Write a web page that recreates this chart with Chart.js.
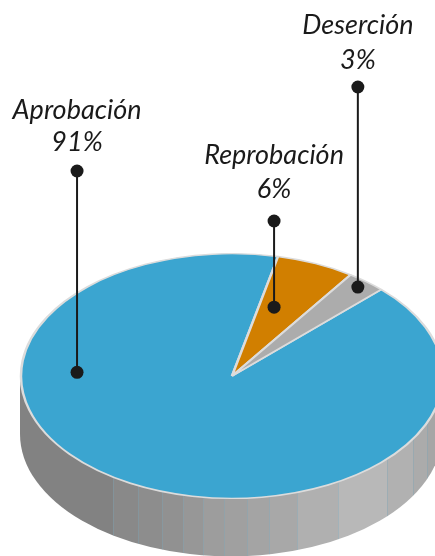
<!DOCTYPE html>
<html>
<head>
<meta charset="utf-8">
<style>html,body{margin:0;padding:0;background:#fff}canvas{display:block}</style>
<script src="https://cdn.jsdelivr.net/npm/chart.js@4"></script>
</head>
<body>
<canvas id="c" width="435" height="556"></canvas>
<script>
const categories = ['Aprobación', 'Reprobación', 'Deserción'];
const values = [91, 6, 3];
const valueLabels = ['91%', '6%', '3%'];
const colors = ['#3ba5d0', '#d17f00', '#acacac'];

// Callouts: fraction along the slice's sweep, fraction of radius, top dot y
const calloutSweep = [0.694, 0.32, 0.48];
const calloutRadius = [0.735, 0.597, 0.94];
const calloutTopY = [171, 221, 87];
const labelY = [[110, 142], [155, 189], [25, 60]];

// Side wall facets
const facetEdges = [0, 113, 138, 162, 183, 203, 224, 247, 269, 297, 338, 387, 413, 427, 435];
const facetFills = ['#828282', '#898989', '#8d8d8d', '#919191', '#979797', '#9d9d9d', '#a0a0a0', '#a4a4a4', '#a8a8a8', '#b0b0b0', '#b8b8b8', '#b1b1b1', '#ababab', '#a6a6a6'];

const SQUASH = 0.58, DEPTH = 58;

const pie3d = {
  id: 'pie3d',
  beforeDatasetsDraw(chart) {
    const arc = chart.getDatasetMeta(0).data[0];
    const { x, y, outerRadius: r } = arc;
    const c = chart.ctx;
    c.save();
    c.beginPath();
    c.ellipse(x - 1, y + DEPTH, r, r * SQUASH, 0, 0, Math.PI);
    c.lineTo(x - 1 - r, y);
    c.lineTo(x - 1 + r, y);
    c.closePath();
    c.clip();
    facetFills.forEach((f, i) => {
      c.fillStyle = f;
      c.fillRect(facetEdges[i], y, facetEdges[i + 1] - facetEdges[i], 200);
    });
    c.fillStyle = 'rgba(120,165,185,0.35)';
    facetEdges.slice(1, -1).forEach(e => c.fillRect(e, y, 1, 200));
    c.restore();
  },
  beforeDatasetDraw(chart) {
    const arc = chart.getDatasetMeta(0).data[0];
    const c = chart.ctx;
    c.save();
    c.translate(arc.x, arc.y);
    c.scale(1, SQUASH);
    c.translate(-arc.x, -arc.y);
  },
  afterDatasetDraw(chart) {
    chart.ctx.restore();
  },
  afterDraw(chart) {
    const c = chart.ctx;
    c.save();
    chart.getDatasetMeta(0).data.forEach((arc, i) => {
      const a = arc.startAngle + (arc.endAngle - arc.startAngle) * calloutSweep[i];
      const px = arc.x + Math.cos(a) * arc.outerRadius * calloutRadius[i];
      const py = arc.y + Math.sin(a) * arc.outerRadius * calloutRadius[i] * SQUASH;
      c.strokeStyle = '#1a1a1a';
      c.fillStyle = '#1a1a1a';
      c.lineWidth = 2;
      c.beginPath();
      c.moveTo(px, py);
      c.lineTo(px, calloutTopY[i]);
      c.stroke();
      [py, calloutTopY[i]].forEach(dy => {
        c.beginPath();
        c.arc(px, dy, 6.5, 0, Math.PI * 2);
        c.fill();
      });
      c.textAlign = 'center';
      c.textBaseline = 'middle';
      c.font = 'italic 27px Lato';
      c.fillText(categories[i], px, labelY[i][0]);
      c.fillText(valueLabels[i], px, labelY[i][1]);
    });
    c.restore();
  }
};

new Chart(document.getElementById('c'), {
  type: 'pie',
  data: {
    labels: categories,
    datasets: [{
      data: values,
      backgroundColor: colors,
      borderColor: '#dcdcdc',
      borderWidth: 2.5,
      clip: false
    }]
  },
  options: {
    responsive: false,
    animation: false,
    rotation: 45,
    radius: 211,
    layout: { padding: { left: 29, top: 196 } },
    plugins: { legend: { display: false }, tooltip: { enabled: false } }
  },
  plugins: [pie3d]
});
</script>
</body>
</html>
